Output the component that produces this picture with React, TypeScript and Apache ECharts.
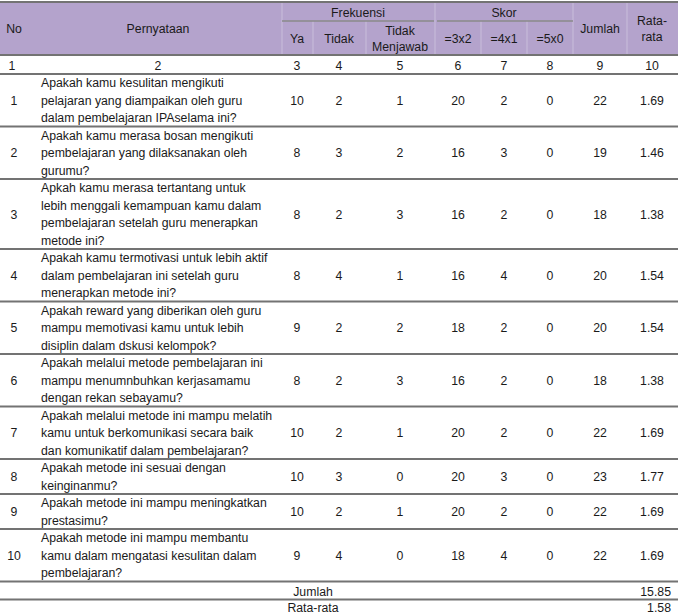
import React, { useEffect, useRef } from "react";
import * as echarts from "echarts";

// ---- data ----
const columnNumbers = ["1", "2", "3", "4", "5", "6", "7", "8", "9", "10"];
const questionNo = ["1", "2", "3", "4", "5", "6", "7", "8", "9", "10"];
const statements = [
  "Apakah kamu kesulitan mengikuti\npelajaran yang diampaikan oleh guru\ndalam pembelajaran IPAselama ini?",
  "Apakah kamu merasa bosan mengikuti\npembelajaran yang dilaksanakan oleh\ngurumu?",
  "Apkah kamu merasa tertantang untuk\nlebih menggali kemampuan kamu dalam\npembelajaran setelah guru menerapkan\nmetode ini?",
  "Apakah kamu termotivasi untuk lebih aktif\ndalam pembelajaran ini setelah guru\nmenerapkan metode ini?",
  "Apakah reward yang diberikan oleh guru\nmampu memotivasi kamu untuk lebih\ndisiplin dalam dskusi kelompok?",
  "Apakah melalui metode pembelajaran ini\nmampu menumnbuhkan kerjasamamu\ndengan rekan sebayamu?",
  "Apakah melalui metode ini mampu melatih\nkamu untuk berkomunikasi secara baik\ndan komunikatif dalam pembelajaran?",
  "Apakah metode ini sesuai dengan\nkeinginanmu?",
  "Apakah metode ini mampu meningkatkan\nprestasimu?",
  "Apakah metode ini mampu membantu\nkamu dalam mengatasi kesulitan dalam\npembelajaran?",
];
const ya = [10, 8, 8, 8, 9, 8, 10, 10, 10, 9];
const tidak = [2, 3, 2, 4, 2, 2, 2, 3, 2, 4];
const tidakMenjawab = [1, 2, 3, 1, 2, 3, 1, 0, 1, 0];
const skor3x2 = [20, 16, 16, 16, 18, 16, 20, 20, 20, 18];
const skor4x1 = [2, 3, 2, 4, 2, 2, 2, 3, 2, 4];
const skor5x0 = [0, 0, 0, 0, 0, 0, 0, 0, 0, 0];
const jumlah = [22, 19, 18, 20, 20, 18, 22, 23, 22, 22];
const rataRata = ["1.69", "1.46", "1.38", "1.54", "1.54", "1.38", "1.69", "1.77", "1.69", "1.69"];
const totalLabel = "Jumlah";
const totalValue = "15.85";
const averageLabel = "Rata-rata";
const averageValue = "1.58";

// ---- layout / style ----
const W = 678;
const H = 615;
const FONT = "'Liberation Sans', Arial, sans-serif";
const FS = 13.5;
const SX = 0.91;
const TXT = "#1a1a1a";
const HEADER_BG = "#b4a3cc";
const LINE = "#737373";
const LH = 17.5;
const colX = [14, 158, 297, 339, 400, 458, 504, 550, 600, 652];
const stmtX = 41;

function buildGraphic() {
  const els: any[] = [];
  const text = (t: string, x: number, y: number, align = "center", extra: any = {}) =>
    els.push({
      type: "text",
      x,
      y,
      z: 10,
      scaleX: SX,
      style: {
        text: t,
        fill: TXT,
        fontFamily: FONT,
        fontSize: FS,
        textAlign: align,
        textVerticalAlign: "middle",
        lineHeight: 16,
        ...extra,
      },
    });
  const hline = (x1: number, x2: number, y: number, w = 2, c = LINE) =>
    els.push({ type: "line", z: 5, shape: { x1, y1: y, x2, y2: y }, style: { stroke: c, lineWidth: w } });
  const vline = (x: number, y1: number, y2: number) =>
    els.push({ type: "line", z: 4, shape: { x1: x, y1, x2: x, y2 }, style: { stroke: "#c9bedb", lineWidth: 1 } });

  // header
  const top = 2, sub = 21, hb = 55, nb = 74;
  els.push({ type: "rect", z: 1, shape: { x: 0, y: top, width: W, height: hb - top }, style: { fill: HEADER_BG } });
  [282, 435, 573, 627].forEach((x) => vline(x, top, hb));
  [313, 366, 481, 527].forEach((x) => vline(x, sub, hb));
  hline(0, W, top);
  hline(282, 434, sub, 1.5, "#8a8a8a");
  hline(437, 573, sub, 1.5, "#8a8a8a");
  hline(0, W, hb);
  const midH = (top + hb) / 2;
  const midS = (sub + hb) / 2;
  text("No", colX[0], midH);
  text("Pernyataan", colX[1], midH);
  text("Frekuensi", 358, (top + sub) / 2 + 1);
  text("Skor", 504, (top + sub) / 2 + 1);
  text("Ya", colX[2], midS);
  text("Tidak", colX[3], midS);
  text("Tidak\nMenjawab", colX[4], midS);
  text("=3x2", colX[5], midS);
  text("=4x1", colX[6], midS);
  text("=5x0", colX[7], midS);
  text("Jumlah", colX[8], midH);
  text("Rata-\nrata", colX[9], midH);

  // column numbers row
  columnNumbers.forEach((n, i) => text(n, i === 0 ? 12 : colX[i], (hb + nb) / 2 + 1));
  hline(0, W, nb);

  // data rows
  let y = nb;
  statements.forEach((s, i) => {
    const lines = s.split("\n").length;
    const h = lines * LH;
    const cy = y + h / 2;
    text(questionNo[i], colX[0], cy);
    text(s, stmtX, cy, "left", { lineHeight: LH });
    const vals = [ya[i], tidak[i], tidakMenjawab[i], skor3x2[i], skor4x1[i], skor5x0[i], jumlah[i], rataRata[i]];
    vals.forEach((v, j) => text(String(v), colX[j + 2], cy));
    y += h;
    hline(0, W, y);
  });

  // totals
  const rh = 18;
  text(totalLabel, 313, y + rh / 2 + 0.5);
  text(totalValue, 671, y + rh / 2 + 0.5, "right");
  y += rh;
  hline(0, W, y);
  text(averageLabel, 313, y + 7.5);
  text(averageValue, 671, y + 7.5, "right");
  return els;
}

export default function App() {
  const ref = useRef<HTMLDivElement>(null);
  useEffect(() => {
    if (!ref.current) return;
    const chart = echarts.init(ref.current, null, { renderer: "svg" });
    chart.setOption({
      animation: false,
      backgroundColor: "#ffffff",
      graphic: { elements: buildGraphic() },
    });
    return () => chart.dispose();
  }, []);
  return (
    <div
      ref={ref}
      style={{ position: "absolute", left: 0, top: 0, width: W, height: H, background: "#fff" }}
    />
  );
}
